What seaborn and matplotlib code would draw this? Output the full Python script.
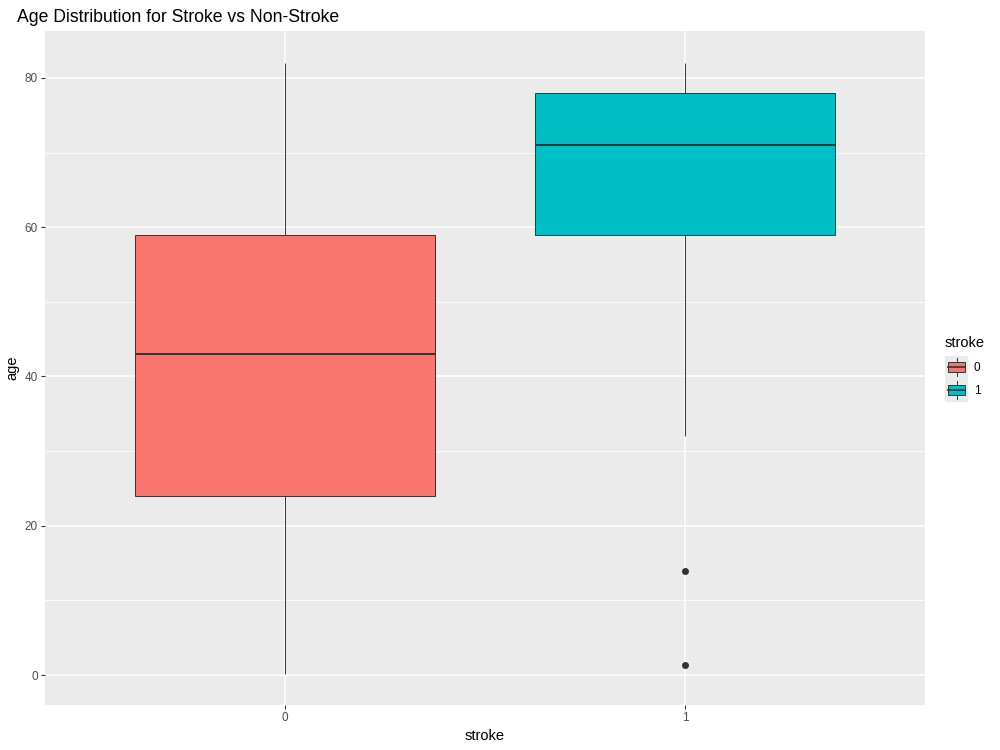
import numpy as np
import pandas as pd
import seaborn as sns
import matplotlib.pyplot as plt
from matplotlib.legend_handler import HandlerBase
from matplotlib.patches import Rectangle, Patch
from matplotlib.lines import Line2D
from matplotlib.ticker import MultipleLocator

# ages per group, chosen so the box stats match the chart
# stroke = 0: min 0.08, Q1 24, median 43, Q3 59, max 82
ages_no_stroke = [0.08, 24, 43, 59, 82]
# stroke = 1: outliers 1.32 and 14, whisker 32, Q1 59, median 71, Q3 78, max 82
ages_stroke = [1.32, 14, 32, 59, 59, 59, 71, 78, 78, 78, 82, 82, 82]

groups = ['0', '1']
colors = {'0': '#F8766D', '1': '#00BFC4'}

df = pd.DataFrame({
    'stroke': ['0'] * len(ages_no_stroke) + ['1'] * len(ages_stroke),
    'age': ages_no_stroke + ages_stroke,
})

plt.rcParams['font.family'] = ['Liberation Sans', 'DejaVu Sans']

fig = plt.figure(figsize=(10, 7.5), dpi=100)
ax = fig.add_axes([0.045, 0.06, 0.88, 0.8987])
ax.set_facecolor('#EBEBEB')

sns.boxplot(data=df, x='stroke', y='age', hue='stroke', order=groups,
            palette=colors, saturation=1, dodge=False, width=0.75, linewidth=0.7,
            linecolor='#333333', showcaps=False, legend=False,
            medianprops=dict(linewidth=1.4, color='#333333'),
            flierprops=dict(marker='o', markersize=4, markerfacecolor='#333333',
                            markeredgecolor='#333333'),
            ax=ax)

ax.set_xlim(-0.6, 1.6)
ax.set_ylim(-4.02, 86.3)
ax.yaxis.set_major_locator(MultipleLocator(20))
ax.yaxis.set_minor_locator(MultipleLocator(10))
ax.grid(which='major', color='white', linewidth=1.1)
ax.grid(which='minor', axis='y', color='white', linewidth=0.55)
ax.set_axisbelow(True)
for s in ax.spines.values():
    s.set_visible(False)
ax.tick_params(which='major', length=3, width=0.8, color='#333333',
               labelcolor='#4D4D4D', labelsize=8.5, pad=2)
ax.tick_params(which='minor', length=0)

ax.set_xlabel('stroke', fontsize=10.5, color='black', labelpad=4)
ax.set_ylabel('age', fontsize=10.5, color='black', labelpad=4)
fig.text(0.017, 0.977, 'Age Distribution for Stroke vs Non-Stroke',
         fontsize=12.7, ha='left', va='center')


class BoxKey(HandlerBase):
    # ggplot-like boxplot legend key
    def create_artists(self, legend, orig, xd, yd, w, h, fs, trans):
        x0, y0 = -xd, -yd
        bg = Rectangle((x0, y0), w, h, facecolor='#EBEBEB',
                       edgecolor='none', transform=trans)
        bx = Rectangle((x0 + w * 0.12, y0 + h * 0.28), w * 0.76, h * 0.44,
                       facecolor=orig.get_facecolor(), edgecolor='#333333',
                       linewidth=0.7, transform=trans)
        cx = x0 + w / 2
        lines = [
            Line2D([cx, cx], [y0 + h * 0.1, y0 + h * 0.28], color='#333333', lw=0.7, transform=trans),
            Line2D([cx, cx], [y0 + h * 0.72, y0 + h * 0.9], color='#333333', lw=0.7, transform=trans),
            Line2D([x0 + w * 0.12, x0 + w * 0.88], [y0 + h / 2] * 2, color='#333333', lw=1.2, transform=trans),
        ]
        return [bg, bx] + lines


handles = [Patch(facecolor=colors[g]) for g in groups]
leg = fig.legend(handles, groups, title='stroke', loc='center left',
                 bbox_to_anchor=(0.945, 0.508), frameon=False, fontsize=8.5,
                 title_fontsize=10.5, handler_map={Patch: BoxKey()},
                 handlelength=1.95, handleheight=2.62, handletextpad=0.5,
                 labelspacing=0.0, alignment='left', borderpad=0,
                 borderaxespad=0)
leg._legend_box.sep = 4

fig.savefig('out.png', dpi=100)
